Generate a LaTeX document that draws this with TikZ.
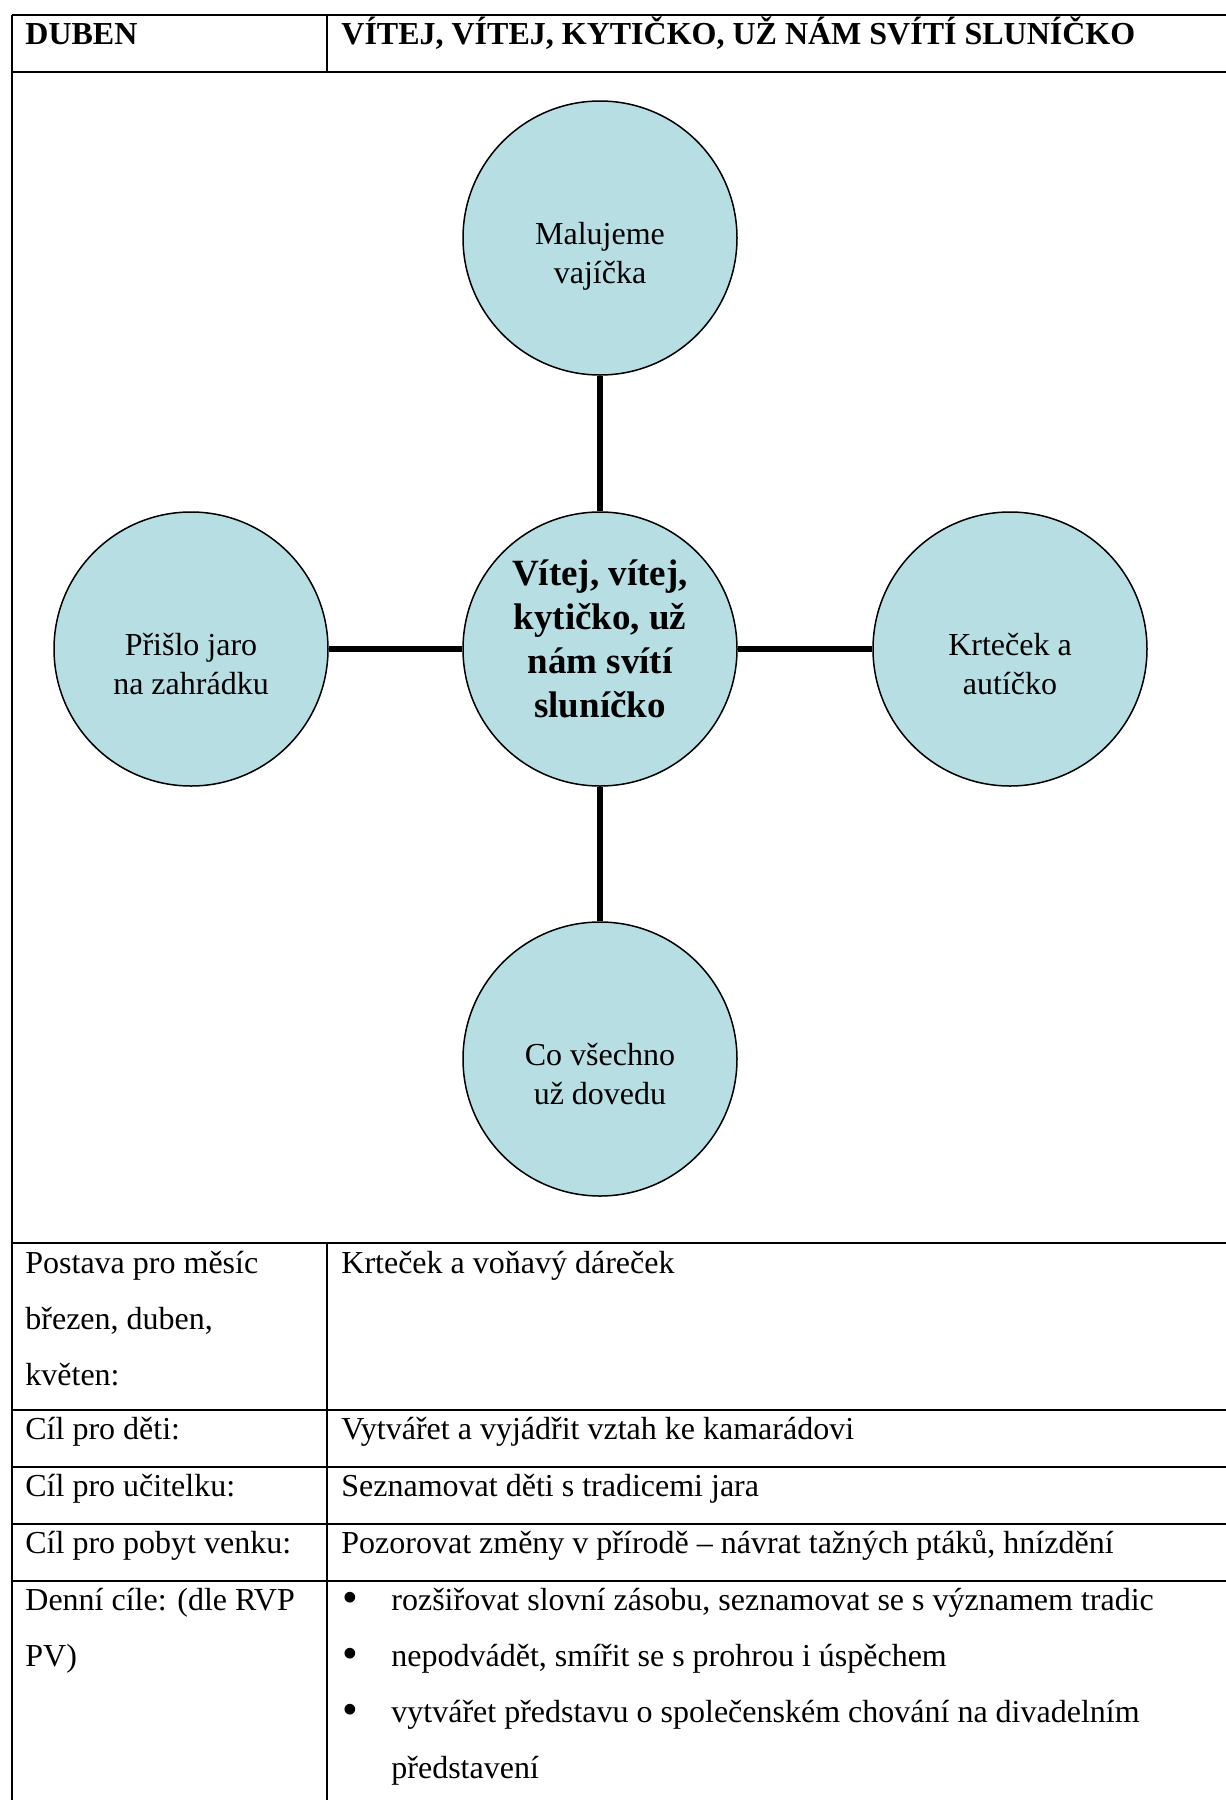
\documentclass[tikz,border=0pt]{standalone}
\usepackage{graphicx}
\usepackage{fontspec}
\setmainfont{Liberation Serif}
\definecolor{modra}{RGB}{183,222,227}
\newcommand{\bod}{\makebox[24.5pt][l]{\raisebox{-1pt}{\scalebox{1.4}{\textbullet}}}}

\begin{document}
\begin{tikzpicture}[x=0.5pt, y=-0.5pt,
        kruh/.style={circle, draw, line width=0.75pt, fill=modra, minimum size=137pt, inner sep=0pt},
        popis/.style={align=center, font=\fontsize{16}{19.5}\selectfont, yshift=-7.5pt},
        tema/.style={align=center, font=\bfseries\fontsize{18.5}{22}\selectfont, yshift=5pt},
        bunka/.style={anchor=base west, inner sep=0pt, align=left, font=\fontsize{16}{28}\selectfont},
        hlava/.style={bunka, font=\bfseries\fontsize{16}{28}\selectfont},
        spoj/.style={line width=2.75pt},
        cara/.style={line width=1pt}
    ]
        \useasboundingbox (0,0) rectangle (1226,1800);

        % Tabulka
        \draw[cara] (12,15) -- (1226,15);
        \draw[cara] (12,72) -- (1226,72);
        \draw[cara] (12,1243) -- (1226,1243);
        \draw[cara] (12,1410) -- (1226,1410);
        \draw[cara] (12,1467) -- (1226,1467);
        \draw[cara] (12,1524) -- (1226,1524);
        \draw[cara] (12,1581) -- (1226,1581);
        \draw[cara] (12,15) -- (12,1800);
        \draw[cara] (327,15) -- (327,72);
        \draw[cara] (327,1243) -- (327,1800);

        % Hlavicka
        \node[hlava] (mesic) at (25,44) {DUBEN};
        \node[hlava] (nazev) at (341,44) {VÍTEJ, VÍTEJ, KYTIČKO, UŽ NÁM SVÍTÍ SLUNÍČKO};

        % Kruhy
        \node[kruh, label={[tema]center:Vítej, vítej,\\kytičko, už\\nám svítí\\sluníčko}] (stred) at (600,649) {};
        \node[kruh, label={[popis, yshift=-1.7pt]center:Malujeme\\vajíčka}] (vajicka) at (600,238) {};
        \node[kruh, label={[popis]center:Přišlo jaro\\na zahrádku}] (jaro) at (191,649) {};
        \node[kruh, label={[popis]center:Krteček a\\autíčko}] (krtek) at (1010,649) {};
        \node[kruh, label={[popis]center:Co všechno\\už dovedu}] (dovedu) at (600,1059) {};

        % Spojnice
        \draw[spoj] (vajicka) -- (stred);
        \draw[spoj] (jaro) -- (stred);
        \draw[spoj] (stred) -- (krtek);
        \draw[spoj] (stred) -- (dovedu);

        % Radky tabulky (base = posledni radek)
        \node[bunka] (postava) at (25,1385) {Postava pro měsíc\\březen, duben,\\květen:};
        \node[bunka] (darecek) at (341,1273) {Krteček a voňavý dáreček};
        \node[bunka] (deti) at (25,1439) {Cíl pro děti:};
        \node[bunka] (vztah) at (341,1439) {Vytvářet a vyjádřit vztah ke kamarádovi};
        \node[bunka] (ucitelka) at (25,1496) {Cíl pro učitelku:};
        \node[bunka] (tradice) at (341,1496) {Seznamovat děti s tradicemi jara};
        \node[bunka] (venku) at (25,1553) {Cíl pro pobyt venku:};
        \node[bunka] (zmeny) at (341,1553) {Pozorovat změny v přírodě – návrat tažných ptáků, hnízdění};
        \node[bunka] (denni) at (25,1666) {Denní cíle: (dle RVP\\PV)};
        \node[bunka] (cile) at (342,1778) {\bod rozšiřovat slovní zásobu, seznamovat se s významem tradic\\
            \bod nepodvádět, smířit se s prohrou i úspěchem\\
            \bod vytvářet představu o společenském chování na divadelním\\
            \hspace*{24.5pt}představení};
    \end{tikzpicture}
\end{document}
